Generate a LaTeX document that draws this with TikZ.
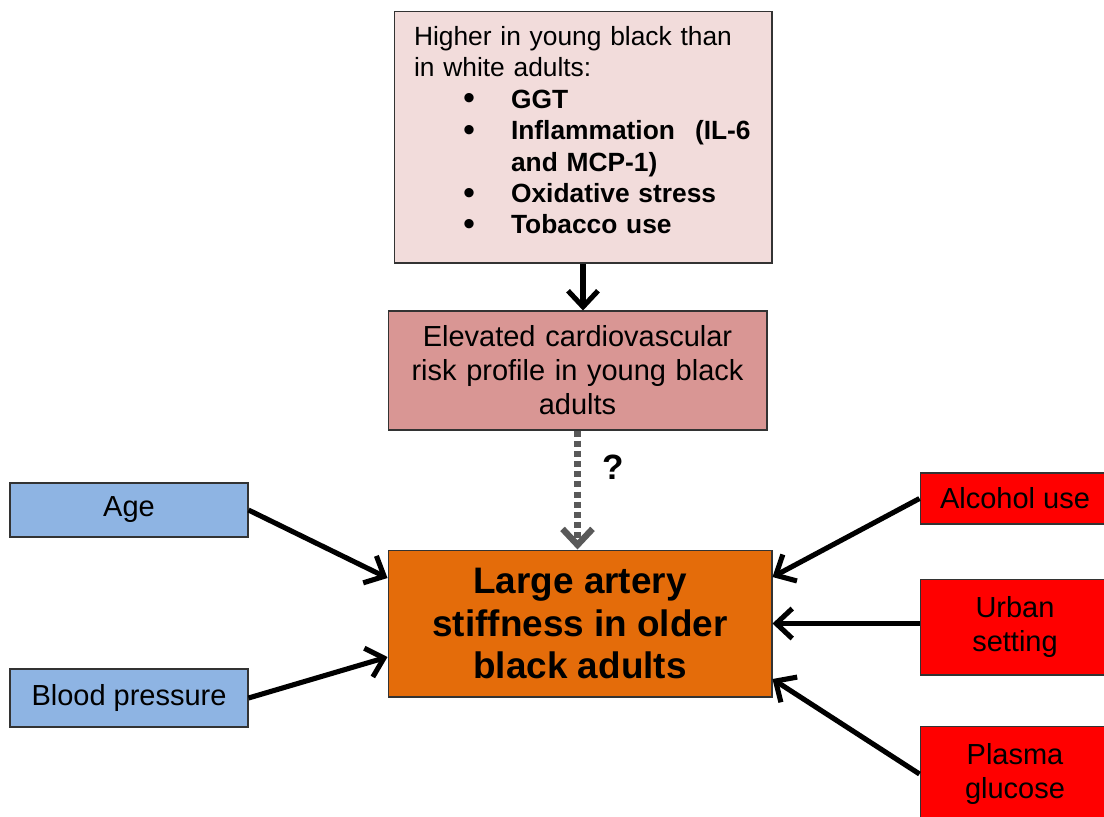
\documentclass[tikz,border=0pt]{standalone}
\usepackage{fontspec}
\setmainfont{Liberation Sans}
\usetikzlibrary{arrows.meta,calc}
\definecolor{pinkfill}{HTML}{F2DCDB}
\definecolor{rosefill}{HTML}{D99694}
\definecolor{orangefill}{HTML}{E46C0A}
\definecolor{bluefill}{HTML}{8EB4E3}
\definecolor{redfill}{HTML}{FF0000}
\definecolor{dotgray}{HTML}{595959}
\newcommand{\bul}{\hspace*{0.98cm}\makebox[0.96cm][l]{\raisebox{-0.06em}{\scalebox{1.3}{\textbullet}}}}

\begin{document}
\begin{tikzpicture}[x=0.02cm,y=-0.02cm,
  box/.style={draw=black!80,line width=0.6pt,inner sep=0pt,align=center,
    font=\fontsize{16.5}{19.3}\selectfont},
  link/.style={line width=2.9pt,-{Straight Barb[length=0.32cm,width=0.6cm]}}]
 \useasboundingbox (0,0) rectangle (1104,816);
 \clip (0,0) rectangle (1104,816);
 % boxes
 \node[box,fill=pinkfill,minimum width=7.56cm,minimum height=5.04cm,text width=6.76cm,align=left,
   font=\fontsize{15}{17.9}\selectfont] (top) at (583,137)
  {Higher in young black than\\in white adults:\\
   \bul\textbf{GGT}\\
   \bul\textbf{Inflammation}\hspace{0.4cm}\textbf{(IL-6}\\
   \hspace*{1.94cm}\textbf{and MCP-1)}\\
   \bul\textbf{Oxidative stress}\\
   \bul\textbf{Tobacco use}\rule[-0.28cm]{0pt}{0pt}};
 \node[box,fill=rosefill,minimum width=7.58cm,minimum height=2.38cm,text width=7cm] (elev) at (577.5,370.5)
  {Elevated cardiovascular\\risk profile in young black\\adults};
 \node[box,fill=orangefill,minimum width=7.68cm,minimum height=2.94cm,
   font=\bfseries\fontsize{21}{24.4}\selectfont] (main) at (580,623.5)
  {Large artery\\stiffness in older\\black adults};
 \node[box,fill=bluefill,minimum width=4.76cm,minimum height=1.08cm] (age) at (129,510) {Age};
 \node[box,fill=bluefill,minimum width=4.76cm,minimum height=1.16cm] (bp) at (129,698) {Blood pressure};
 \node[box,fill=redfill,minimum width=3.8cm,minimum height=1.02cm] (alc) at (1015,498.5) {Alcohol use};
 \node[box,fill=redfill,minimum width=3.8cm,minimum height=1.92cm] (urban) at (1015,627) {Urban\\setting};
 \node[box,fill=redfill,minimum width=3.8cm,minimum height=1.92cm] (gluc) at (1015,774) {Plasma\\glucose};
 \node[font=\bfseries\fontsize{20}{24}\selectfont] (q) at (613,467) {?};
 % connectors
 \draw[link] (top.south) -- (top.south |- elev.north);
 \draw[link,dotgray,line width=3.6pt,dash pattern=on 3.4pt off 2.4pt] (elev.south) -- (elev.south |- main.north);
 \draw[link] (age.east) -- ([yshift=0.91cm]main.west);
 \draw[link] (bp.east) -- ([yshift=-0.67cm]main.west);
 \draw[link] (alc.west) -- ([yshift=0.93cm]main.east);
 \draw[link] (urban.west |- main.east) -- (main.east);
 \draw[link] (gluc.west) -- ([yshift=-1.11cm]main.east);
\end{tikzpicture}
\end{document}
